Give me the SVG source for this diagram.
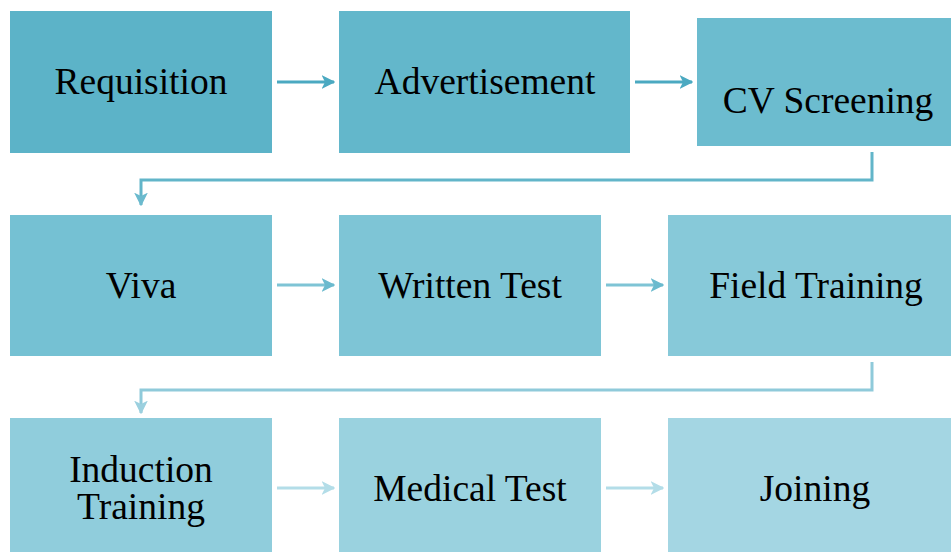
<svg xmlns="http://www.w3.org/2000/svg" width="951" height="552" viewBox="0 0 951 552">
  <style>
    .lbl { font-family: "Liberation Serif", "Times New Roman", serif; font-size: 37.5px; fill: #000; text-anchor: middle; }
    .conn { fill: none; stroke-width: 3; }
  </style>
  <defs>
    <marker id="ah1" viewBox="0 0 10 10" refX="9" refY="5" markerWidth="4.6" markerHeight="4.6" markerUnits="strokeWidth" orient="auto">
      <path d="M0,0 L10,5 L0,10 L2.5,5 Z" fill="#4BA9C1"/>
    </marker>
    <marker id="ah2" viewBox="0 0 10 10" refX="9" refY="5" markerWidth="4.6" markerHeight="4.6" markerUnits="strokeWidth" orient="auto">
      <path d="M0,0 L10,5 L0,10 L2.5,5 Z" fill="#6BBACE"/>
    </marker>
    <marker id="ah3" viewBox="0 0 10 10" refX="9" refY="5" markerWidth="4.6" markerHeight="4.6" markerUnits="strokeWidth" orient="auto">
      <path d="M0,0 L10,5 L0,10 L2.5,5 Z" fill="#9BD0DF"/>
    </marker>
    <marker id="ah4" viewBox="0 0 10 10" refX="9" refY="5" markerWidth="4.6" markerHeight="4.6" markerUnits="strokeWidth" orient="auto">
      <path d="M0,0 L10,5 L0,10 L2.5,5 Z" fill="#B3DDE8"/>
    </marker>
  </defs>

  <rect width="951" height="552" fill="#fff"/>

  <!-- connectors -->
  <g id="connectors">
    <line class="conn" x1="277" y1="82" x2="334" y2="82" stroke="#4BA9C1" marker-end="url(#ah1)"/>
    <line class="conn" x1="635" y1="82" x2="692" y2="82" stroke="#4BA9C1" marker-end="url(#ah1)"/>
    <polyline class="conn" points="872,152 872,180 141,180 141,205" stroke="#62B5C9" marker-end="url(#ah2)"/>
    <line class="conn" x1="277" y1="285" x2="334" y2="285" stroke="#7EC4D5" marker-end="url(#ah2)"/>
    <line class="conn" x1="606" y1="285" x2="663" y2="285" stroke="#7EC4D5" marker-end="url(#ah2)"/>
    <polyline class="conn" points="872,362 872,390 141,390 141,413" stroke="#8FCADA" marker-end="url(#ah3)"/>
    <line class="conn" x1="277" y1="488" x2="334" y2="488" stroke="#B3DDE8" marker-end="url(#ah4)"/>
    <line class="conn" x1="606" y1="488" x2="663" y2="488" stroke="#B3DDE8" marker-end="url(#ah4)"/>
  </g>

  <!-- row 1 -->
  <g id="requisition">
    <rect x="10" y="11" width="262" height="142" fill="#5CB3C8"/>
    <text class="lbl" x="141" y="94">Requisition</text>
  </g>
  <g id="advertisement">
    <rect x="339" y="11" width="291" height="142" fill="#63B7CB"/>
    <text class="lbl" x="485" y="94">Advertisement</text>
  </g>
  <g id="cv-screening">
    <rect x="697" y="18" width="262" height="128" fill="#6CBCCF"/>
    <text class="lbl" x="828" y="113">CV Screening</text>
  </g>

  <!-- row 2 -->
  <g id="viva">
    <rect x="10" y="215" width="262" height="141" fill="#75C1D3"/>
    <text class="lbl" x="141" y="298">Viva</text>
  </g>
  <g id="written-test">
    <rect x="339" y="215" width="262" height="141" fill="#7EC5D6"/>
    <text class="lbl" x="470" y="298">Written Test</text>
  </g>
  <g id="field-training">
    <rect x="668" y="215" width="294" height="141" fill="#87C9D9"/>
    <text class="lbl" x="816" y="298">Field Training</text>
  </g>

  <!-- row 3 -->
  <g id="induction-training">
    <rect x="10" y="418" width="262" height="134" fill="#90CDDC"/>
    <text class="lbl" x="141" y="482">Induction</text>
    <text class="lbl" x="141" y="519">Training</text>
  </g>
  <g id="medical-test">
    <rect x="339" y="418" width="262" height="134" fill="#9AD2DF"/>
    <text class="lbl" x="470" y="501">Medical Test</text>
  </g>
  <g id="joining">
    <rect x="668" y="418" width="294" height="134" fill="#A4D6E3"/>
    <text class="lbl" x="815" y="501">Joining</text>
  </g>
</svg>
